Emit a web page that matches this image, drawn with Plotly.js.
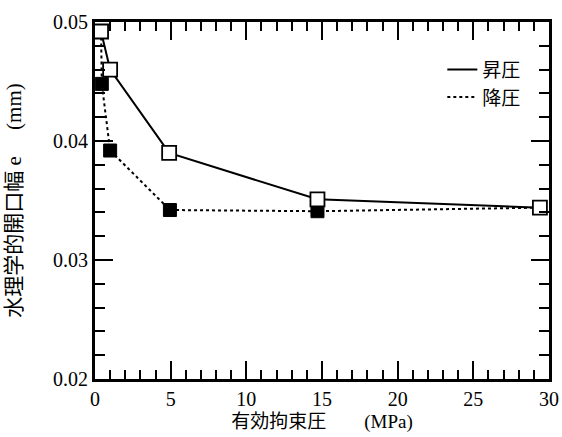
<!DOCTYPE html>
<html><head><meta charset="utf-8">
<script src="https://cdn.plot.ly/plotly-3.0.1.min.js"></script>
<style>body{margin:0;background:#fff;overflow:hidden}#note{font-size:10px;margin:0;color:#fff}</style>
</head><body>
<div id="chart" style="width:562px;height:437px"></div>
<pre id="note"></pre>
<script>
// ---- data ----
const upX = [0.4, 1.0, 4.9, 14.7, 29.4];
const upY = [0.0492, 0.0460, 0.0390, 0.0351, 0.0344];
const downX = [0.4, 0.45, 1.0, 4.95, 14.7, 29.4];
const downY = [0.0492, 0.0448, 0.0392, 0.0342, 0.0341, 0.0344];
const upName = '昇圧';
const downName = '降圧';
const xTitle = '有効拘束圧　　(MPa)';
const yTitle = '水理学的開口幅 e　 (mm)';

const fam = 'Liberation Serif, Noto Sans CJK JP, serif';
const black = '#000';
const data = [
  {x: downX, y: downY, mode: 'lines', name: downName, line: {color: black, width: 2, dash: 'dot'}, legendrank: 2},
  {x: upX, y: upY, mode: 'lines', name: upName, line: {color: black, width: 2}, legendrank: 1},
  {x: downX, y: downY, mode: 'markers', showlegend: false, cliponaxis: false,
   marker: {symbol: 'square', size: 13, color: black, line: {color: black, width: 1}}},
  {x: upX, y: upY, mode: 'markers', showlegend: false, cliponaxis: false,
   marker: {symbol: 'square', size: 14, color: '#fff', line: {color: black, width: 1.8}}}
];
const axisCommon = {
  showgrid: false, zeroline: false, showline: true, linecolor: black, linewidth: 3,
  ticks: 'inside', ticklen: 18, tickwidth: 2, tickcolor: black, mirror: 'ticks',
  tickfont: {family: fam, size: 20, color: black}
};
const layout = {
  width: 562, height: 437,
  margin: {l: 95, r: 13, t: 22, b: 58},
  paper_bgcolor: '#fff', plot_bgcolor: '#fff',
  showlegend: true,
  legend: {x: 0.765, y: 0.92, xanchor: 'left', yanchor: 'top', bgcolor: 'rgba(0,0,0,0)',
           font: {family: fam, size: 19, color: black}, traceorder: 'normal'},
  xaxis: Object.assign({}, axisCommon, {
    range: [0, 30], dtick: 5, tick0: 0,
    minor: {dtick: 1, ticks: 'inside', ticklen: 9, tickwidth: 1.5, tickcolor: black},
    title: {text: xTitle, font: {family: fam, size: 19, color: black}, standoff: 6}
  }),
  yaxis: Object.assign({}, axisCommon, {
    range: [0.02, 0.05], dtick: 0.01, tick0: 0.02, tickformat: '.2f',
    minor: {dtick: 0.002, ticks: 'inside', ticklen: 10, tickwidth: 1.5, tickcolor: black},
    title: {text: yTitle, font: {family: fam, size: 21, color: black}, standoff: 26}
  })
};
Plotly.newPlot('chart', data, layout, {displayModeBar: false}).then(gd => {
  document.getElementById('note').textContent = 'rendered';
});
</script>
</body></html>
